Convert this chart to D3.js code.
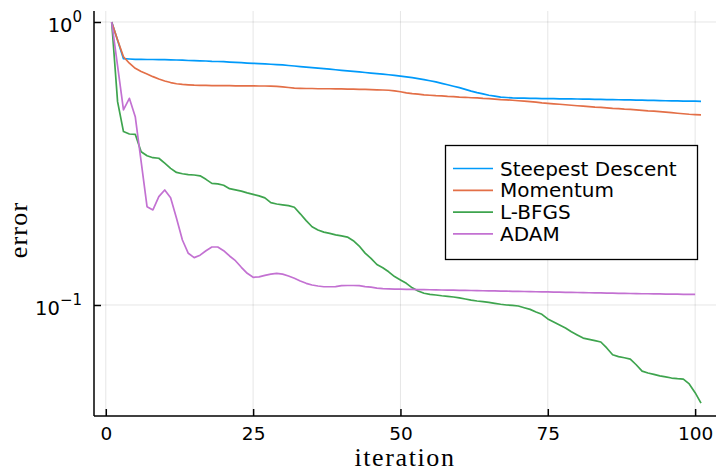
<!DOCTYPE html>
<html>
<head>
<meta charset="utf-8">
<script src="https://cdn.jsdelivr.net/npm/d3@7"></script>
<style>
  body { margin: 0; background: #fff; }
  text { font-family: "DejaVu Sans", sans-serif; fill: #000; }
  .axtitle { font-family: "Liberation Serif", "DejaVu Serif", serif; }
</style>
</head>
<body>
<div id="chart"></div>
<script>
var width = 716, height = 472;

// data, one value per iteration
var seriesNames = ["Steepest Descent", "Momentum", "L-BFGS", "ADAM"];
var seriesColors = ["#009AFA", "#E36F47", "#3EA44E", "#C371D2"];

var steepest = [1.0, 0.862, 0.742, 0.740, 0.738, 0.738, 0.737, 0.737, 0.736, 0.736,
  0.735, 0.734, 0.733, 0.731, 0.730, 0.729, 0.728, 0.726, 0.725, 0.724,
  0.722, 0.720, 0.718, 0.716, 0.7145, 0.713, 0.711, 0.709, 0.707, 0.705,
  0.702, 0.699, 0.696, 0.693, 0.690, 0.687, 0.684, 0.681, 0.678, 0.675,
  0.672, 0.669, 0.666, 0.663, 0.660, 0.657, 0.654, 0.651, 0.648, 0.644,
  0.640, 0.636, 0.631, 0.626, 0.620, 0.614, 0.607, 0.600, 0.593, 0.586,
  0.578, 0.570, 0.563, 0.557, 0.551, 0.547, 0.543, 0.541, 0.539, 0.5385,
  0.538, 0.5375, 0.537, 0.5365, 0.536, 0.5357, 0.5354, 0.5351, 0.5348, 0.5345,
  0.534, 0.5335, 0.533, 0.5325, 0.532, 0.5316, 0.5312, 0.5308, 0.5304, 0.530,
  0.5294, 0.5288, 0.5282, 0.5276, 0.527, 0.5266, 0.5262, 0.5257, 0.5253, 0.5249,
  0.5245];

var momentum = [1.0, 0.864, 0.754, 0.715, 0.686, 0.668, 0.655, 0.641, 0.629, 0.619,
  0.611, 0.605, 0.602, 0.600, 0.598, 0.597, 0.597, 0.596, 0.596, 0.596,
  0.596, 0.595, 0.595, 0.595, 0.595, 0.594, 0.594, 0.593, 0.592, 0.590,
  0.587, 0.584, 0.583, 0.582, 0.582, 0.581, 0.581, 0.581, 0.580, 0.580,
  0.579, 0.579, 0.578, 0.578, 0.577, 0.576, 0.575, 0.574, 0.571, 0.567,
  0.562, 0.558, 0.556, 0.553, 0.551, 0.549, 0.548, 0.546, 0.545, 0.543,
  0.542, 0.540, 0.539, 0.537, 0.536, 0.534, 0.532, 0.531, 0.529, 0.527,
  0.525, 0.523, 0.521, 0.518, 0.516, 0.514, 0.512, 0.510, 0.508, 0.506,
  0.504, 0.502, 0.500, 0.499, 0.497, 0.495, 0.494, 0.492, 0.491, 0.489,
  0.487, 0.485, 0.484, 0.482, 0.480, 0.478, 0.476, 0.474, 0.472, 0.4706,
  0.4694];

var lbfgs = [1.0, 0.523, 0.410, 0.402, 0.401, 0.348, 0.337, 0.3315, 0.330, 0.317,
  0.304, 0.294, 0.291, 0.289, 0.288, 0.286, 0.278, 0.269, 0.268, 0.265,
  0.2576, 0.255, 0.2525, 0.249, 0.246, 0.243, 0.239, 0.230, 0.2275, 0.226,
  0.2244, 0.2215, 0.210, 0.1986, 0.189, 0.184, 0.181, 0.179, 0.177, 0.1754,
  0.1738, 0.1687, 0.1616, 0.1525, 0.1462, 0.139, 0.1354, 0.131, 0.126, 0.1226,
  0.1193, 0.115, 0.112, 0.110, 0.109, 0.1085, 0.1078, 0.1073, 0.1067, 0.1059,
  0.105, 0.104, 0.1033, 0.1028, 0.1022, 0.1014, 0.1006, 0.100, 0.0997, 0.0992,
  0.0978, 0.0965, 0.0945, 0.0927, 0.0893, 0.0871, 0.085, 0.0829, 0.0805, 0.0784,
  0.0764, 0.0756, 0.0748, 0.074, 0.0705, 0.0667, 0.0657, 0.0651, 0.0644, 0.0615,
  0.0584, 0.0575, 0.0569, 0.0562, 0.0557, 0.0552, 0.0549, 0.0547, 0.0526, 0.049,
  0.045];

var adam = [1.0, 0.70, 0.489, 0.5375, 0.463, 0.321, 0.2226, 0.2167, 0.2414, 0.255,
  0.2394, 0.2024, 0.1697, 0.1523, 0.147, 0.150, 0.1555, 0.1603, 0.1603, 0.1555,
  0.149, 0.1434, 0.1359, 0.1294, 0.1253, 0.1257, 0.1273, 0.1286, 0.1294, 0.1286,
  0.1266, 0.1243, 0.1216, 0.1193, 0.1177, 0.1167, 0.116, 0.116, 0.1162, 0.117,
  0.1172, 0.1172, 0.117, 0.1162, 0.1156, 0.1148, 0.1142, 0.114, 0.1138, 0.1137,
  0.1136, 0.1135, 0.1134, 0.1133, 0.1132, 0.1131, 0.113, 0.1129, 0.1128, 0.1127,
  0.1126, 0.1125, 0.1124, 0.1123, 0.1122, 0.1121, 0.112, 0.1119, 0.1118, 0.1117,
  0.1116, 0.1115, 0.1114, 0.1113, 0.1112, 0.1111, 0.111, 0.1109, 0.1108, 0.1107,
  0.1106, 0.1105, 0.1104, 0.1103, 0.1102, 0.1101, 0.11, 0.1099, 0.1098, 0.1097,
  0.1096, 0.1096, 0.1095, 0.1094, 0.1093, 0.1092, 0.1092, 0.1091, 0.109, 0.109];

var xTicks = [0, 25, 50, 75, 100];
var yTicks = [1, 0.1];
var yTickExp = ["0", "\u22121"];

var series = [steepest, momentum, lbfgs, adam].map(function(vals, k) {
  return { name: seriesNames[k], color: seriesColors[k],
    values: vals.map(function(v, i) { return { it: i + 1, err: v }; }) };
});

var plot = { left: 94, right: 718.7, top: 11, bottom: 416 };

var svg = d3.select("#chart").append("svg")
    .attr("width", width)
    .attr("height", height);

var x = d3.scaleLinear().domain([-2, 104]).range([plot.left, plot.right]);
var y = d3.scaleLog().domain([0.04053, 1.0936]).range([plot.bottom, plot.top]);

// grid
svg.append("g").selectAll("line.vgrid")
    .data(xTicks).enter().append("line")
    .attr("x1", d => x(d)).attr("x2", d => x(d))
    .attr("y1", plot.top).attr("y2", plot.bottom)
    .attr("stroke", "#000").attr("stroke-opacity", 0.1).attr("stroke-width", 1);

svg.append("g").selectAll("line.hgrid")
    .data(yTicks).enter().append("line")
    .attr("x1", plot.left).attr("x2", plot.right)
    .attr("y1", d => y(d)).attr("y2", d => y(d))
    .attr("stroke", "#000").attr("stroke-opacity", 0.1).attr("stroke-width", 1);

// series
var line = d3.line()
    .x(d => x(d.it))
    .y(d => y(d.err));

svg.append("g").selectAll("path.series")
    .data(series).enter().append("path")
    .attr("class", "series")
    .attr("fill", "none")
    .attr("stroke", d => d.color)
    .attr("stroke-width", 1.7)
    .attr("stroke-linejoin", "round")
    .attr("d", d => line(d.values));

// x axis
var xAxis = d3.axisBottom(x).tickValues(xTicks).tickSize(-7).tickPadding(11);
var gx = svg.append("g")
    .attr("transform", `translate(0, ${plot.bottom})`)
    .call(xAxis);
gx.select(".domain").attr("stroke", "#000").attr("stroke-width", 1.5)
    .attr("d", `M${plot.left},0H${plot.right}`);
gx.selectAll(".tick line").attr("stroke", "#000").attr("stroke-width", 1.5);
gx.selectAll(".tick text")
    .style("font-family", '"DejaVu Sans", sans-serif')
    .style("font-size", "18.5px")
    .attr("fill", "#000");

// y axis, log with 10^n labels
var yAxis = d3.axisLeft(y).tickValues(yTicks).tickSize(-7).tickPadding(12).tickFormat("");
var gy = svg.append("g")
    .attr("transform", `translate(${plot.left}, 0)`)
    .call(yAxis);
gy.select(".domain").attr("stroke", "#000").attr("stroke-width", 1.5)
    .attr("d", `M0,${plot.top}V${plot.bottom}`);
gy.selectAll(".tick line").attr("stroke", "#000").attr("stroke-width", 1.5);

var ylab = svg.append("g").selectAll("text.ylab")
    .data(yTicks).enter().append("text")
    .attr("class", "ylab")
    .attr("x", plot.left - 12)
    .attr("y", d => y(d) + 10.5)
    .attr("text-anchor", "end")
    .style("font-size", "19.5px");
ylab.append("tspan").text("10");
ylab.append("tspan")
    .attr("dy", -10)
    .style("font-size", "15px")
    .text((d, i) => yTickExp[i]);

// axis titles
svg.append("text")
    .attr("class", "axtitle")
    .attr("x", (plot.left + 716) / 2)
    .attr("y", 466)
    .attr("text-anchor", "middle")
    .style("font-size", "26px")
    .style("letter-spacing", "1.6px")
    .text("iteration");

svg.append("text")
    .attr("class", "axtitle")
    .attr("transform", "translate(27, 230) rotate(-90)")
    .attr("text-anchor", "middle")
    .style("font-size", "26px")
    .style("letter-spacing", "1.2px")
    .text("error");

// legend
var legend = svg.append("g").attr("transform", "translate(445, 145)");
legend.append("rect")
    .attr("x", 0.5).attr("y", 0.5)
    .attr("width", 252).attr("height", 114)
    .attr("fill", "#fff")
    .attr("stroke", "#000")
    .attr("stroke-width", 1.3);

var rows = legend.selectAll("g.row")
    .data(series).enter().append("g")
    .attr("class", "row")
    .attr("transform", (d, i) => `translate(0, ${23.5 + i * 21.8})`);
rows.append("line")
    .attr("x1", 8).attr("x2", 48)
    .attr("y1", 0).attr("y2", 0)
    .attr("stroke", d => d.color)
    .attr("stroke-width", 1.7);
rows.append("text")
    .attr("x", 55)
    .attr("y", 7)
    .style("font-size", "20px")
    .text(d => d.name);
</script>
</body>
</html>
